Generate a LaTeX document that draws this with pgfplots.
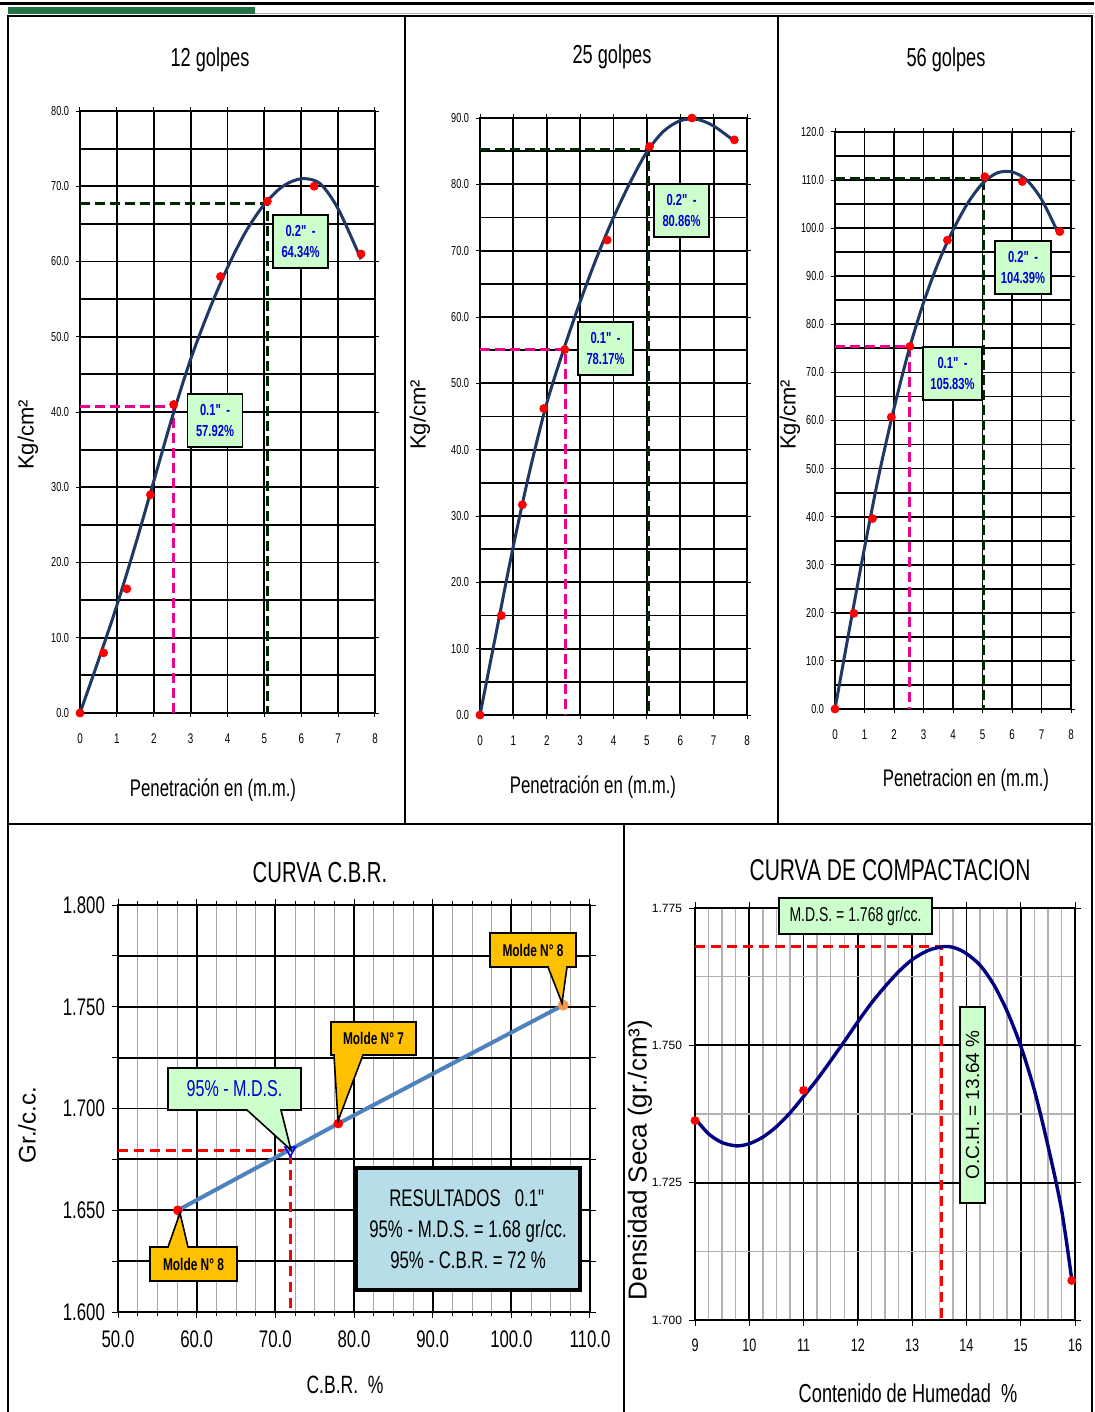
\documentclass[border=0pt]{standalone}
\usepackage{fontspec}
\setmainfont{Liberation Sans}[FakeStretch=0.7]
\newfontfamily\wide{Liberation Sans}
\usepackage{pgfplots}
\pgfplotsset{compat=1.18}
\definecolor{navy1}{RGB}{31,56,100}
\definecolor{dkgreen}{RGB}{0,40,0}
\definecolor{lgreen}{RGB}{204,255,204}
\definecolor{cbrblue}{RGB}{79,129,189}
\definecolor{callout}{RGB}{255,192,0}
\definecolor{resblue}{RGB}{183,222,232}
\definecolor{compblue}{RGB}{0,0,128}
\definecolor{xlgreen}{RGB}{33,115,70}
\definecolor{lblue}{RGB}{0,0,210}
\newcommand{\fs}[1]{\fontsize{#1}{#1}\selectfont}
\newcommand{\q}{\textquotedbl}
\pgfplotsset{
 golpes/.style={
  scale only axis, clip=false, anchor=south west,
  xmin=0, xmax=8, xtick={0,1,...,8},
  grid=both,
  major grid style={black, line width=0.9pt},
  minor grid style={black, line width=0.9pt},
  axis line style={black, line width=1pt},
  tick style={black, line width=0.5pt},
  tick align=outside, major tick length=2pt, minor tick length=0pt,
  /pgf/number format/assume math mode=true,
  xticklabel style={font=\fs{7}, yshift=-5pt},
  yticklabel style={font=\fs{6.5}, /pgf/number format/fixed, /pgf/number format/fixed zerofill, /pgf/number format/precision=1},
 },
 curve/.style={navy1, line width=1.5pt, smooth, no markers},
 dots/.style={only marks, mark=*, mark size=2pt, red},
 magdash/.style={magenta, line width=1.4pt, dash pattern=on 5pt off 2.5pt, no markers},
 grndash/.style={dkgreen, line width=1.6pt, dash pattern=on 5pt off 2.5pt, no markers},
}
\tikzset{
 gbox/.style={draw=black, line width=0.8pt, fill=lgreen, text=lblue, font=\bfseries\fontsize{8}{10.5}\selectfont, align=center, minimum width=27.5pt, minimum height=26.5pt, inner sep=1pt},
}
\begin{document}
\begin{tikzpicture}
\useasboundingbox (0,0) rectangle (547pt,-706pt);
\begin{scope}[x=0.5pt,y=-0.5pt]
\fill[white] (0,0) rectangle (1094,1412);
\draw[line width=1.5pt] (0,4) -- (1094,4);
\fill[xlgreen] (8,7) rectangle (255,14);
\draw[gray!60, line width=0.5pt] (255,14) -- (1094,14);
\draw[line width=1.2pt] (8,1412) -- (8,16) -- (1092,16) -- (1092,1412);
\draw[line width=1.2pt] (8,824) -- (1092,824);
\draw[line width=1.2pt] (405,16) -- (405,824);
\draw[line width=1.2pt] (778,16) -- (778,824);
\draw[line width=1.2pt] (624,824) -- (624,1412);
\end{scope}

% ---------- 12 golpes
\begin{axis}[golpes, at={(40pt,-356.5pt)}, width=147.5pt, height=301pt,
  ymin=0, ymax=80, ytick={0,10,...,80}, minor ytick={5,15,...,75}]
\addplot[magdash] coordinates {(0,40.7) (2.54,40.7) (2.54,0)};
\addplot[grndash] coordinates {(0,67.7) (5.08,67.7) (5.08,0)};
\addplot[curve] coordinates {(0,0) (0.5,7) (1,14.3) (1.5,22.3) (2,30.8) (2.5,39.3) (3,47) (3.5,53.5) (4,59.2) (4.5,64) (5,67.6) (5.5,70) (6,71) (6.5,70.4) (7,67) (7.62,60.3)};
\addplot[dots] coordinates {(0,0) (0.64,8) (1.27,16.5) (1.91,29) (2.54,41) (3.81,58) (5.08,68) (6.35,70) (7.62,61)};
\end{axis}

% ---------- 25 golpes
\begin{axis}[golpes, at={(240pt,-357.5pt)}, width=133.5pt, height=298.5pt,
  ymin=0, ymax=90, ytick={0,10,...,90}, minor ytick={5,15,...,85}]
\addplot[magdash] coordinates {(0,55.1) (2.55,55.1) (2.55,0)};
\addplot[grndash] coordinates {(0,85.3) (5.04,85.3) (5.04,0)};
\addplot[curve] coordinates {(0,0) (0.5,12.8) (1,25.5) (1.5,37) (2,47) (2.5,55) (3,62.3) (3.5,69) (4,75) (4.5,80.3) (5,84.9) (5.5,88) (6,89.6) (6.5,89.8) (7,88.8) (7.6,86.6)};
\addplot[dots] coordinates {(0,0) (0.64,15) (1.27,31.7) (1.91,46.2) (2.54,55.1) (3.81,71.6) (5.08,85.7) (6.35,90) (7.62,86.7)};
\end{axis}

% ---------- 56 golpes
\begin{axis}[golpes, at={(417.5pt,-354.5pt)}, width=118pt, height=288.5pt,
  ymin=0, ymax=120, ytick={0,10,...,120}, minor ytick={5,15,...,115}]
\addplot[magdash] coordinates {(0,75.4) (2.52,75.4) (2.52,0)};
\addplot[grndash] coordinates {(0,110.4) (5.03,110.4) (5.03,0)};
\addplot[curve] coordinates {(0,0) (0.5,17) (1,33.5) (1.5,49) (2,62.5) (2.5,74.5) (3,84.5) (3.5,92.8) (4,99.6) (4.5,105.2) (5,109.3) (5.5,111.5) (6,111.7) (6.5,110) (7,106) (7.55,99.2)};
\addplot[dots] coordinates {(0,0) (0.64,19.9) (1.27,39.6) (1.91,60.7) (2.54,75.4) (3.81,97.5) (5.08,110.7) (6.35,109.7) (7.62,99.3)};
\end{axis}

% ---------- CURVA C.B.R.
\begin{axis}[scale only axis, clip=false, anchor=south west, at={(59pt,-656pt)}, width=236pt, height=203.5pt,
  xmin=50, xmax=110, ymin=1.6, ymax=1.8,
  xtick={50,60,...,110}, minor x tick num=3,
  ytick={1.6,1.625,1.65,1.675,1.7,1.725,1.75,1.775,1.8},
  yticklabels={1.600,,1.650,,1.700,,1.750,,1.800},
  grid=both,
  major grid style={black, line width=0.9pt},
  minor grid style={gray!70, line width=0.5pt},
  axis line style={black, line width=1pt},
  tick style={black, line width=0.5pt}, tick align=outside,
  major tick length=3pt, minor tick length=2pt,
  /pgf/number format/assume math mode=true,
  xticklabel style={font=\fs{12}, yshift=-3pt, /pgf/number format/fixed, /pgf/number format/fixed zerofill, /pgf/number format/precision=1},
  yticklabel style={font=\fs{12}}]
\addplot[red, line width=1.7pt, dash pattern=on 5pt off 3pt, no markers] coordinates {(50,1.6795) (71.9,1.6795) (71.9,1.6)};
\addplot[cbrblue, line width=2pt, no markers] coordinates {(57.6,1.650) (78.0,1.6926) (106.6,1.7508)};
\addplot[only marks, mark=*, mark size=2.2pt, red] coordinates {(57.6,1.650) (78.0,1.6926)};
\addplot[only marks, mark=*, mark size=2.5pt, color={rgb,255:red,247;green,150;blue,70}] coordinates {(106.6,1.7508)};
\addplot[only marks, mark=triangle, mark size=3pt, mark options={rotate=180, blue, line width=0.8pt}] coordinates {(71.9,1.6795)};
\end{axis}

% ---------- CURVA DE COMPACTACION
\begin{axis}[scale only axis, clip=false, anchor=south west, at={(347.5pt,-660pt)}, width=190pt, height=206pt,
  xmin=9, xmax=16, ymin=1.7, ymax=1.775,
  xtick={9,10,...,16}, minor x tick num=3,
  ytick={1.7,1.725,1.75,1.775}, minor y tick num=1,
  yticklabels={1.700,1.725,1.750,1.775},
  grid=both,
  major grid style={black, line width=0.9pt},
  minor grid style={gray!60, line width=0.7pt},
  axis line style={black, line width=1pt},
  tick style={black, line width=0.5pt}, tick align=outside,
  major tick length=3pt, minor tick length=0pt,
  /pgf/number format/assume math mode=true,
  xticklabel style={font=\fs{9}, yshift=-3pt},
  yticklabel style={font=\wide\fs{6}}]
\addplot[red, line width=1.5pt, dash pattern=on 5pt off 3pt, no markers] coordinates {(9,1.768) (13.54,1.768) (13.54,1.7)};
\addplot[compblue, line width=1.7pt, smooth, no markers] coordinates {(9,1.7367) (9.25,1.7339) (9.5,1.7323) (9.77,1.7317) (10,1.7321) (10.25,1.7333) (10.5,1.7352) (10.75,1.7377) (11,1.7407) (11.25,1.7438) (11.5,1.7472) (11.75,1.7507) (12,1.7543) (12.25,1.7577) (12.5,1.7607) (12.75,1.7634) (13,1.7656) (13.3,1.7673) (13.6,1.7680) (13.8,1.7677) (14,1.7667) (14.25,1.7646) (14.5,1.7611) (14.75,1.7562) (15,1.7499) (15.25,1.7419) (15.5,1.7318) (15.75,1.7202) (15.94,1.7074)};
\addplot[only marks, mark=*, mark size=2pt, red] coordinates {(9,1.7363) (11,1.7418) (15.94,1.7072)};
\end{axis}

% ---------- annotations
\begin{scope}[x=0.5pt,y=-0.5pt]
\node[font=\fs{13}] at (210,60) {12 golpes};
\node[font=\fs{13}] at (612,57) {25 golpes};
\node[font=\fs{13}] at (946,60) {56 golpes};
\node[font=\fs{12}] at (213,790) {Penetración en (m.m.)};
\node[font=\fs{12}] at (593,787) {Penetración en (m.m.)};
\node[font=\fs{12}] at (966,780) {Penetracion en (m.m.)};
\node[font=\wide\fs{11}, rotate=90] at (28,435) {Kg/cm²};
\node[font=\wide\fs{11}, rotate=90] at (420,415) {Kg/cm²};
\node[font=\wide\fs{11}, rotate=90] at (790,415) {Kg/cm²};
\node[gbox] at (300.5,241.5) {0.2\q\ -\\64.34\%};
\node[gbox] at (215,420.5) {0.1\q\ -\\57.92\%};
\node[gbox] at (681.5,210.5) {0.2\q\ -\\80.86\%};
\node[gbox] at (605.5,348.5) {0.1\q\ -\\78.17\%};
\node[gbox, minimum width=28pt] at (1023,267.5) {0.2\q\ -\\104.39\%};
\node[gbox, minimum width=29.5pt] at (952.5,373.5) {0.1\q\ -\\105.83\%};
% CBR
\node[font=\fs{14.5}] at (320,873) {CURVA C.B.R.};
\node[font=\fs{12.5}] at (345,1385) {C.B.R.\ \ \%};
\node[font=\wide\fs{12}, rotate=90] at (27,1125) {Gr./c.c.};
\draw[fill=lgreen, line width=0.8pt] (168,1068) -- (301,1068) -- (301,1110) -- (281,1110) -- (291,1150) -- (247,1110) -- (168,1110) -- cycle;
\node[font=\fs{11.5}, text=lblue] at (234.5,1089) {95\% - M.D.S.};
\draw[fill=callout, line width=0.8pt] (490,933) -- (576,933) -- (576,967) -- (567,967) -- (562,1003) -- (548,967) -- (490,967) -- cycle;
\node[font=\bfseries\fs{8.5}] at (533,950) {Molde N° 8};
\draw[fill=callout, line width=0.8pt] (331,1022) -- (416,1022) -- (416,1055) -- (363,1055) -- (338,1121) -- (334,1055) -- (331,1055) -- cycle;
\node[font=\bfseries\fs{8.5}] at (373.5,1038.5) {Molde N° 7};
\draw[fill=callout, line width=0.8pt] (150,1247) -- (168,1247) -- (180,1213) -- (188,1247) -- (237,1247) -- (237,1281) -- (150,1281) -- cycle;
\node[font=\bfseries\fs{8.5}] at (193.5,1264) {Molde N° 8};
\node[draw, line width=2pt, fill=resblue, minimum width=112pt, minimum height=61pt, align=center, font=\fontsize{12}{15.5}\selectfont] at (468,1229) {RESULTADOS\ \ \ 0.1\q\\95\% - M.D.S. = 1.68 gr/cc.\\95\% - C.B.R. = 72 \%};
% compactacion
\node[font=\fs{15}] at (890,870) {CURVA DE COMPACTACION};
\node[font=\fs{13}] at (908,1393) {Contenido de Humedad\ \ \%};
\node[font=\wide\fs{13}, rotate=90] at (640,1160) {Densidad Seca (gr./cm³)};
\node[draw, line width=0.8pt, fill=lgreen, font=\fs{10}, minimum width=76.5pt, minimum height=18pt, inner sep=1pt] at (855.5,916) {M.D.S. = 1.768 gr/cc.};
\node[draw, line width=0.8pt, fill=lgreen, font=\wide\fs{9.5}, rotate=90, minimum width=98pt, minimum height=12.5pt, inner sep=1pt] at (972.5,1105) {O.C.H. = 13.64 \%};
\end{scope}
\end{tikzpicture}
\end{document}
